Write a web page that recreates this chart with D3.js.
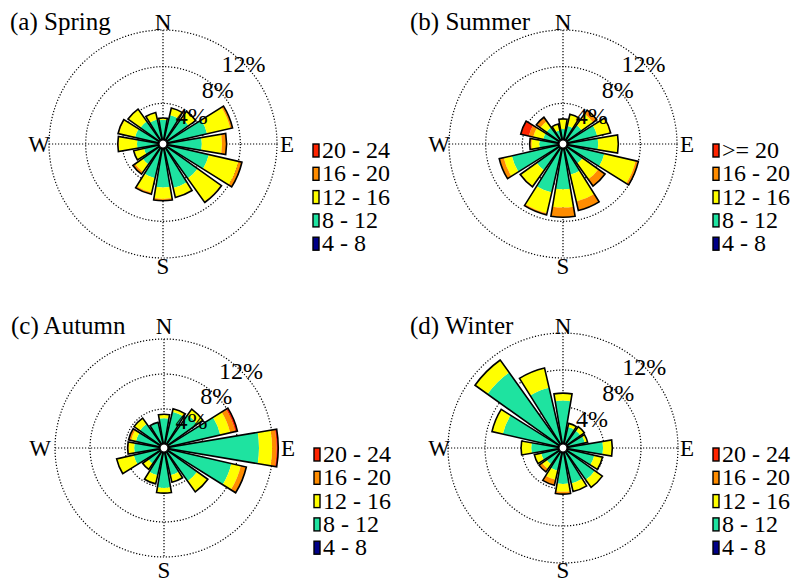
<!DOCTYPE html>
<html>
<head>
<meta charset="utf-8">
<script src="https://cdn.jsdelivr.net/npm/d3@7"></script>
<style>
  body { margin: 0; background: #fff; }
</style>
</head>
<body>
<svg id="chart" width="798" height="580" font-family="'Liberation Serif', 'DejaVu Serif', 'Times New Roman', serif"></svg>
<script>
// DIRECTIONS, CLOCKWISE FROM NORTH
var directions = ["N","NNE","NE","ENE","E","ESE","SE","SSE","S","SSW","SW","WSW","W","WNW","NW","NNW"];

// SPEED CLASSES (bottom to top of each bar)
var speedKeys = ["s48","s812","s1216","s1620","s2024"];
var speedColors = ["#000088","#1ee3a0","#ffff00","#ff8c00","#ff2400"];
var labelsStd = ["4 - 8","8 - 12","12 - 16","16 - 20","20 - 24"];
var labelsSummer = ["4 - 8","8 - 12","12 - 16","16 - 20",">= 20"];

var ringValues = [4, 8, 12];

// frequency (%) of each speed class per direction
// spring
var spring48   = [0.1,0.1,0.1,0.1,0.1,0.1,0.1,0.1,0.1,0.1,0.1,0.1,0.1,0.1,0.1,0.1];
var spring812  = [2.1,2.7,2.9,4.4,3.7,4.6,4.1,4.4,4.2,3.3,2.2,1.6,2.3,2.6,2.5,2.2];
var spring1216 = [0.2,0.8,0.9,2.6,2.2,3.3,3.1,1.0,1.25,1.6,1.0,1.1,2.0,1.8,1.6,0.8];
var spring1620 = [0,0,0.05,0.25,0.5,0.4,0.1,0.05,0.2,0.2,0.3,0.05,0.1,0.1,0.05,0];
var spring2024 = [0,0,0,0,0,0,0,0,0,0,0,0,0,0,0,0];

// summer
var summer48   = [0.1,0.1,0.1,0.1,0.1,0.1,0.1,0.1,0.1,0.1,0.1,0.1,0.1,0.1,0.1,0.1];
var summer812  = [1.1,1.5,2.0,3.3,3.3,4.1,2.1,2.9,4.4,4.9,3.0,5.2,2.05,1.7,1.7,1.0];
var summer1216 = [1.1,1.3,1.5,1.4,2.2,3.5,2.1,3.0,2.0,2.3,2.1,0.9,0.85,1.1,0.8,0.7];
var summer1620 = [0,0,0.5,0.1,0,0.3,0.9,1.0,1.05,0.2,0.1,0.5,0.2,0.5,0.5,0];
var summer2024 = [0,0,0,0,0,0,0,0,0,0,0,0,0,0.9,0.05,0];

// autumn
var autumn48   = [0.1,0.1,0.1,0.1,0.1,0.1,0.1,0.1,0.1,0.1,0.1,0.1,0.1,0.1,0.1,0.1];
var autumn812  = [2.85,3.7,4.1,6.05,10.3,7.35,4.1,2.65,4.0,2.65,1.65,3.0,2.85,2.75,2.85,2.4];
var autumn1216 = [0.45,0.35,0.8,1.15,1.5,1.1,1.5,0.8,0.6,1.0,0.8,2.0,0.65,0.55,0.8,0.05];
var autumn1620 = [0,0,0,0.6,0.5,0.6,0,0,0,0,0,0,0.1,0.3,0,0];
var autumn2024 = [0,0,0,0.25,0.2,0.05,0,0,0,0,0,0,0,0,0,0];

// winter
var winter48   = [0.1,0.1,0.1,0.1,0.1,0.1,0.1,0.1,0.1,0.1,0.1,0.1,0.1,0.1,0.1,0.1];
var winter812  = [4.6,1.8,1.8,1.9,3.8,2.95,3.7,3.4,3.35,2.0,1.65,1.9,2.9,6.15,9.5,6.15];
var winter1216 = [0.8,0.4,0.5,0.3,1.0,0.9,1.0,0.9,0.85,1.0,0.6,0.75,1.1,1.2,1.65,2.2];
var winter1620 = [0,0,0,0,0,0,0,0,0.25,0.6,0.4,0,0,0,0,0];
var winter2024 = [0,0,0,0,0,0,0,0,0,0,0,0,0,0,0,0];

var panels = [
  {title: "(a) Spring", cx: 163, cy: 144, R: 114, legend: labelsStd,
   series: [spring48, spring812, spring1216, spring1620, spring2024]},
  {title: "(b) Summer", cx: 563, cy: 144, R: 114, legend: labelsSummer,
   series: [summer48, summer812, summer1216, summer1620, summer2024]},
  {title: "(c) Autumn", cx: 164, cy: 448, R: 109, legend: labelsStd,
   series: [autumn48, autumn812, autumn1216, autumn1620, autumn2024]},
  {title: "(d) Winter", cx: 563, cy: 448, R: 115, legend: labelsStd,
   series: [winter48, winter812, winter1216, winter1620, winter2024]}
];

var hole = 4;
var halfWidth = 9.5 * Math.PI / 180;

var svg = d3.select("#chart");

// angle of each direction (0 = north, clockwise)
var angle = d3.scaleLinear().domain([0, directions.length]).range([0, 2 * Math.PI]);

var stack = d3.stack().keys(speedKeys);

panels.forEach(function(p) {
  var g = svg.append("g").attr("transform", "translate(" + p.cx + "," + p.cy + ")");

  var r = d3.scaleLinear().domain([0, 12]).range([hole, p.R]);

  // GRID: dotted rings and spokes
  g.selectAll("circle.ring")
    .data(ringValues)
    .enter().append("circle")
    .attr("class", "ring")
    .attr("r", function(d) { return r(d); })
    .attr("fill", "none")
    .attr("stroke", "#000")
    .attr("stroke-width", 1.2)
    .attr("stroke-dasharray", "1.2,1.8");

  g.append("line").attr("x1", -p.R).attr("x2", p.R).attr("y1", 0).attr("y2", 0)
    .attr("stroke", "#000").attr("stroke-width", 1.2).attr("stroke-dasharray", "1.2,1.8");
  g.append("line").attr("y1", -p.R).attr("y2", p.R).attr("x1", 0).attr("x2", 0)
    .attr("stroke", "#000").attr("stroke-width", 1.2).attr("stroke-dasharray", "1.2,1.8");

  // build rows for stacking
  var rows = directions.map(function(dir, i) {
    var row = {dir: dir, i: i};
    speedKeys.forEach(function(k, j) { row[k] = p.series[j][i]; });
    return row;
  });
  var stacked = stack(rows);

  var arc = d3.arc()
    .startAngle(function(d) { return angle(d.data.i) - halfWidth; })
    .endAngle(function(d) { return angle(d.data.i) + halfWidth; })
    .innerRadius(function(d) { return r(d[0]); })
    .outerRadius(function(d) { return r(d[1]); });

  // BARS
  g.selectAll("g.layer")
    .data(stacked)
    .enter().append("g")
    .attr("class", "layer")
    .attr("fill", function(d, i) { return speedColors[i]; })
    .selectAll("path")
    .data(function(d) { return d.filter(function(s) { return s[1] - s[0] > 0; }); })
    .enter().append("path")
    .attr("d", arc);

  // outline of each whole bar
  var outline = d3.arc()
    .startAngle(function(d) { return angle(d.i) - halfWidth; })
    .endAngle(function(d) { return angle(d.i) + halfWidth; })
    .innerRadius(hole)
    .outerRadius(function(d) { return r(d3.sum(speedKeys, function(k) { return d[k]; })); });

  g.selectAll("path.outline")
    .data(rows)
    .enter().append("path")
    .attr("class", "outline")
    .attr("d", outline)
    .attr("fill", "none")
    .attr("stroke", "#000")
    .attr("stroke-width", 1.6)
    .attr("stroke-linejoin", "miter");

  // centre hole
  g.append("circle").attr("r", hole).attr("fill", "#fff")
    .attr("stroke", "#000").attr("stroke-width", 1.2);

  // RING LABELS at 45 degrees
  g.selectAll("text.ringlabel")
    .data(ringValues)
    .enter().append("text")
    .attr("class", "ringlabel")
    .attr("x", function(d) { return r(d) * Math.SQRT1_2; })
    .attr("y", function(d) { return -r(d) * Math.SQRT1_2; })
    .attr("dy", "0.35em")
    .attr("text-anchor", "middle")
    .style("font-size", "24px")
    .text(function(d) { return d + "%"; });

  // COMPASS LABELS
  g.append("text").attr("x", 0).attr("y", -114).attr("text-anchor", "middle")
    .style("font-size", "23px").text("N");
  g.append("text").attr("x", 0).attr("y", 130).attr("text-anchor", "middle")
    .style("font-size", "23px").text("S");
  g.append("text").attr("x", -113).attr("y", 8).attr("text-anchor", "end")
    .style("font-size", "23px").text("W");
  g.append("text").attr("x", 117).attr("y", 8).attr("text-anchor", "start")
    .style("font-size", "23px").text("E");

  // TITLE
  g.append("text").attr("x", -153).attr("y", -114)
    .style("font-size", "25px").text(p.title);

  // LEGEND (top = fastest)
  var legend = g.append("g").attr("transform", "translate(150,0)");
  var order = d3.range(speedKeys.length).reverse();
  var items = legend.selectAll("g.item")
    .data(order)
    .enter().append("g")
    .attr("class", "item")
    .attr("transform", function(d, i) { return "translate(0," + (i * 23.3) + ")"; });
  items.append("rect")
    .attr("width", 6).attr("height", 13)
    .attr("fill", function(d) { return speedColors[d]; })
    .attr("stroke", "#000").attr("stroke-width", 1.4);
  items.append("text")
    .attr("x", 9).attr("y", 14)
    .style("font-size", "24px")
    .text(function(d) { return p.legend[d]; });
});
</script>
</body>
</html>
